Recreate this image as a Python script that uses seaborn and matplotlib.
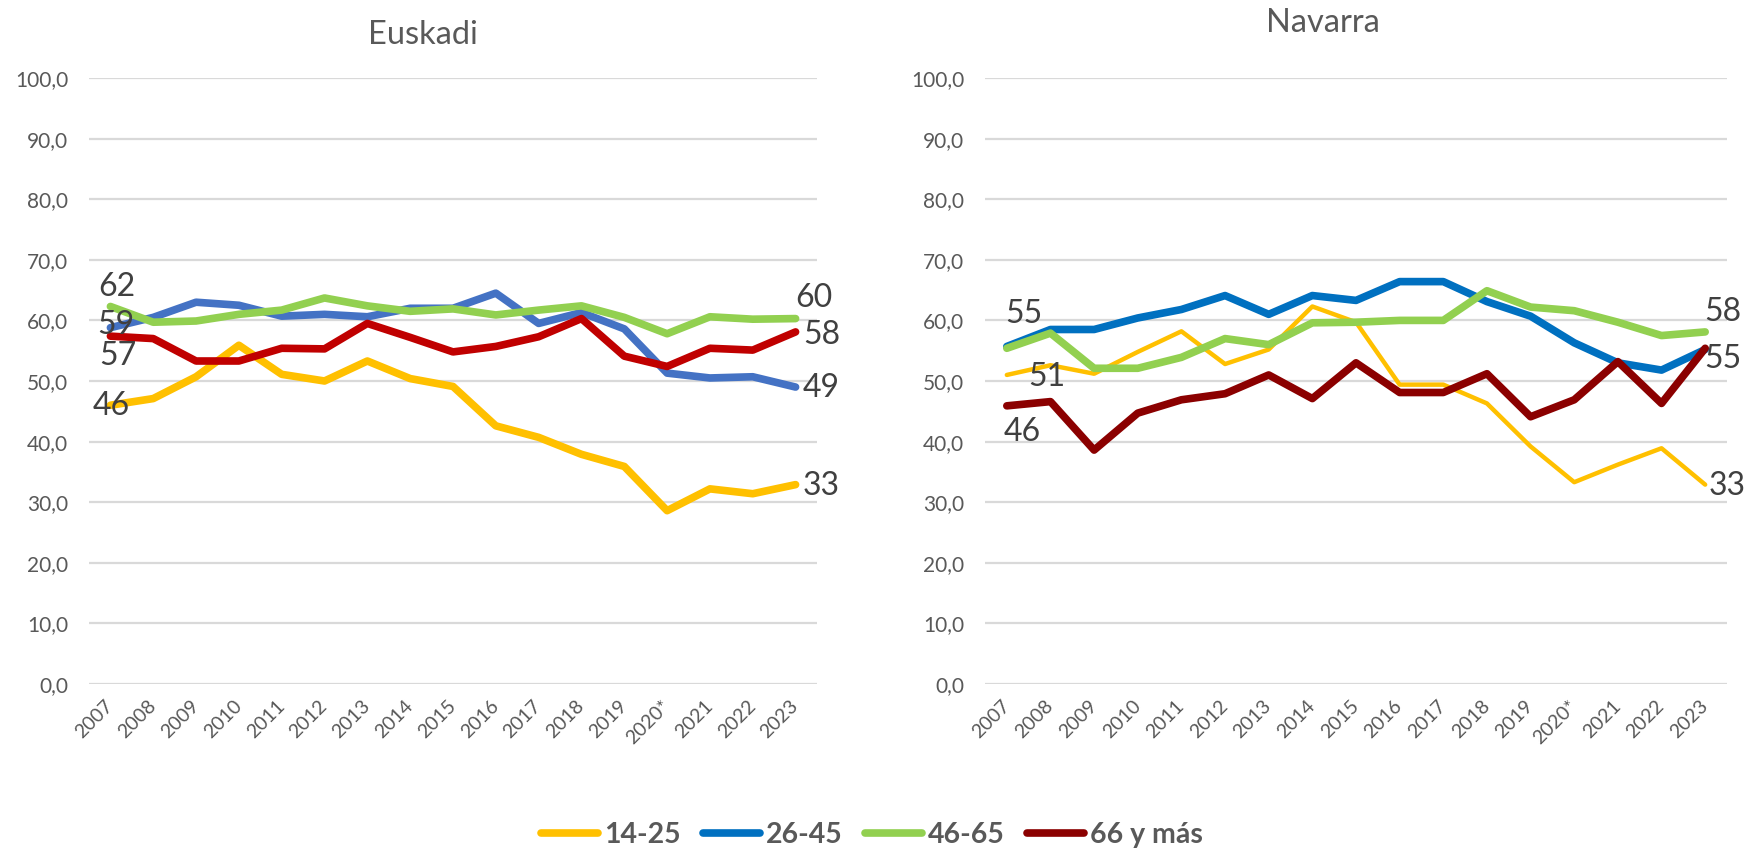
import numpy as np
import pandas as pd
import matplotlib
matplotlib.use("Agg")
import matplotlib.pyplot as plt
import seaborn as sns

years = ["2007", "2008", "2009", "2010", "2011", "2012", "2013", "2014", "2015",
         "2016", "2017", "2018", "2019", "2020*", "2021", "2022", "2023"]
groups = ["14-25", "26-45", "46-65", "66 y más"]
yticks = [0, 10, 20, 30, 40, 50, 60, 70, 80, 90, 100]

eus_14_25 = [46.0, 47.1, 50.7, 55.9, 51.1, 50.0, 53.3, 50.4, 49.1, 42.6, 40.7, 37.9, 35.9, 28.6, 32.2, 31.4, 32.9]
eus_26_45 = [58.8, 60.5, 63.0, 62.5, 60.7, 61.0, 60.6, 62.0, 62.0, 64.5, 59.5, 61.3, 58.6, 51.3, 50.5, 50.7, 49.0]
eus_46_65 = [62.3, 59.7, 59.9, 61.0, 61.7, 63.7, 62.4, 61.5, 61.9, 60.9, 61.7, 62.4, 60.5, 57.8, 60.6, 60.2, 60.3]
eus_66 = [57.4, 57.0, 53.3, 53.3, 55.4, 55.3, 59.5, 57.2, 54.8, 55.7, 57.3, 60.3, 54.1, 52.4, 55.4, 55.1, 58.1]

nav_14_25 = [51.0, 52.6, 51.2, 54.8, 58.2, 52.8, 55.2, 62.3, 59.7, 49.4, 49.4, 46.3, 39.2, 33.3, 36.2, 38.9, 32.9]
nav_26_45 = [55.7, 58.5, 58.5, 60.4, 61.8, 64.1, 61.0, 64.1, 63.3, 66.4, 66.4, 63.1, 60.7, 56.3, 53.0, 51.8, 55.2]
nav_46_65 = [55.4, 57.9, 52.1, 52.1, 53.9, 57.0, 56.0, 59.6, 59.7, 60.0, 60.0, 64.9, 62.2, 61.6, 59.7, 57.5, 58.1]
nav_66 = [45.9, 46.6, 38.6, 44.7, 46.9, 47.9, 51.0, 47.1, 53.0, 48.1, 48.1, 51.2, 44.1, 46.9, 53.2, 46.3, 55.4]

eus_colors = ["#FFC000", "#4472C4", "#92D050", "#C00000"]
nav_colors = ["#FFC000", "#0070C0", "#92D050", "#8B0000"]
legend_colors = ["#FFC000", "#0070C0", "#92D050", "#8B0000"]

FONT = ["Lato", "DejaVu Sans"]
sns.set_theme(style="white")
plt.rcParams["font.family"] = FONT

GRAY = "#595959"
LABEL = "#404040"


def long_df(series):
    rows = []
    for g, vals in zip(groups, series):
        for i, v in enumerate(vals):
            rows.append({"x": i, "value": v, "group": g})
    return pd.DataFrame(rows)


fig = plt.figure(figsize=(17.47, 8.52), dpi=100)
ax1 = fig.add_axes([89 / 1747, 1 - 684 / 852, 728 / 1747, 606 / 852])
ax2 = fig.add_axes([985 / 1747, 1 - 684 / 852, 742 / 1747, 606 / 852])

eus_df = long_df([eus_14_25, eus_26_45, eus_46_65, eus_66])
nav_df = long_df([nav_14_25, nav_26_45, nav_46_65, nav_66])

sns.lineplot(data=eus_df, x="x", y="value", hue="group", hue_order=groups,
             palette=eus_colors, linewidth=5.5, sort=False, legend=False, ax=ax1,
             solid_capstyle="round", solid_joinstyle="round")
sns.lineplot(data=nav_df, x="x", y="value", hue="group", hue_order=groups,
             palette=nav_colors, linewidth=5.5, sort=False, legend=False, ax=ax2,
             solid_capstyle="round", solid_joinstyle="round")
# thinner 14-25 line in Navarra
ax2.lines[0].set_linewidth(3.2)

for ax in (ax1, ax2):
    ax.set_xlim(-0.5, len(years) - 0.5)
    ax.set_ylim(0, 100)
    ax.set_yticks(yticks)
    ax.set_yticklabels([f"{t:.1f}".replace(".", ",") for t in yticks],
                       fontsize=15, color=GRAY)
    ax.set_xticks(range(len(years)))
    ax.set_xticklabels(years, rotation=45, ha="right", va="center",
                       rotation_mode="anchor", fontsize=14, color=GRAY)
    ax.tick_params(axis="x", length=0, pad=14)
    ax.tick_params(axis="y", length=0, pad=15)
    ax.yaxis.grid(True, color="#D9D9D9", linewidth=1.6)
    ax.xaxis.grid(False)
    for s in ax.spines.values():
        s.set_visible(False)
    ax.set_xlabel("")
    ax.set_ylabel("")
    ax.set_axisbelow(True)

# data labels: (axis, series values, index, text offset px)
last = len(years) - 1
labels = [
    (ax1, eus_46_65, 0, (6, 19)),
    (ax1, eus_26_45, 0, (5, 3)),
    (ax1, eus_66, 0, (7, -20)),
    (ax1, eus_14_25, 0, (1, -1)),
    (ax1, eus_46_65, last, (18, 21)),
    (ax1, eus_66, last, (26, -3)),
    (ax1, eus_26_45, last, (26, -1)),
    (ax1, eus_14_25, last, (26, -1)),
    (ax2, nav_46_65, 0, (17, 34)),
    (ax2, nav_14_25, 0, (40, -2)),
    (ax2, nav_66, 0, (15, -26)),
    (ax2, nav_46_65, last, (18, 20)),
    (ax2, nav_66, last, (18, -11)),
    (ax2, nav_14_25, last, (22, -1)),
]
for ax, vals, i, off in labels:
    ax.annotate(f"{round(vals[i])}", xy=(i, vals[i]), xytext=off,
                textcoords="offset pixels", ha="center", va="center",
                fontsize=23, color=LABEL, annotation_clip=False)

fig.text(423 / 1747, 1 - 35 / 852, "Euskadi", ha="center", va="center",
         fontsize=23.5, color=GRAY)
fig.text(1323 / 1747, 1 - 23 / 852, "Navarra", ha="center", va="center",
         fontsize=23.5, color=GRAY)

handles = [matplotlib.lines.Line2D([], [], color=c, linewidth=5.5,
                                   solid_capstyle="round") for c in legend_colors]
leg = fig.legend(handles, groups, loc="center", bbox_to_anchor=(872 / 1747, 1 - 835 / 852),
                 ncol=4, frameon=False, handlelength=2.0, handletextpad=0.2,
                 columnspacing=0.8, prop={"family": FONT, "weight": "bold", "size": 20.5})
for t in leg.get_texts():
    t.set_color(GRAY)

fig.savefig("out.png", dpi=100)
